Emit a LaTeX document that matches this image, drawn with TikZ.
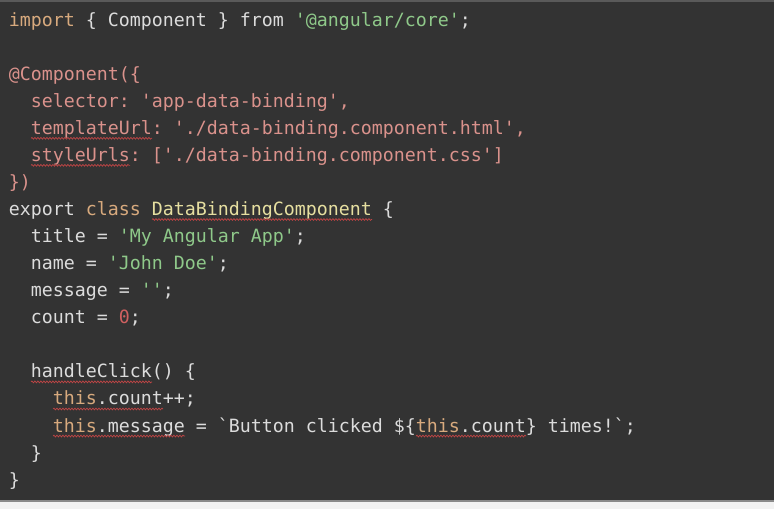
\documentclass[tikz,border=0pt]{standalone}
\usepackage{fontspec}
\setmonofont{DejaVu Sans Mono}
\usetikzlibrary{decorations.pathmorphing}
\definecolor{bgc}{HTML}{333333}
\definecolor{topc}{HTML}{5A5A5A}
\definecolor{botline}{HTML}{8A8A8A}
\definecolor{botc}{HTML}{F2F2F2}
\definecolor{fgc}{HTML}{DCDCDC}
\definecolor{kwc}{HTML}{D8AA7E}
\definecolor{strc}{HTML}{8FC98A}
\definecolor{decoc}{HTML}{DA928C}
\definecolor{clsc}{HTML}{E6DFA0}
\definecolor{numc}{HTML}{CF6060}
\definecolor{sqc}{HTML}{C04545}
\newcommand\ckw[1]{\textcolor{kwc}{#1}}
\newcommand\cstr[1]{\textcolor{strc}{#1}}
\newcommand\cdeco[1]{\textcolor{decoc}{#1}}
\newcommand\ccls[1]{\textcolor{clsc}{#1}}
\newcommand\cnum[1]{\textcolor{numc}{#1}}
\begin{document}
\begin{tikzpicture}[x=1pt,y=-1pt,
  codeln/.style={anchor=base west,inner sep=0pt,outer sep=0pt,text=fgc,
    font=\ttfamily\fontsize{18.27}{22}\selectfont},
  squig/.style={draw=sqc,line width=0.7pt,decorate,
    decoration={snake,amplitude=0.9pt,segment length=3pt}}]
\useasboundingbox (0,0) rectangle (774,509);
\fill[botc] (0,0) rectangle (774,509);
\fill[bgc] (0,0) rectangle (774,500);
\fill[topc] (0,0) rectangle (774,2);
\fill[botline] (0,499.5) rectangle (774,502);
\def\lx{9}
\def\cw{11}
\pgfmathsetmacro\lp{27.07}
% baselines
\foreach \n in {1,...,18}{\pgfmathsetmacro\b{26+\lp*(\n-1)}\expandafter\xdef\csname bl\n\endcsname{\b}}
\node[codeln] (l1) at (\lx,\csname bl1\endcsname) {\ckw{import} \{ Component \} from \cstr{'@angular/core'};};
\node[codeln] (l3) at (\lx,\csname bl3\endcsname) {\cdeco{@Component(\{}};
\node[codeln] (l4) at (\lx,\csname bl4\endcsname) {\cdeco{\ \ selector: 'app-data-binding',}};
\node[codeln] (l5) at (\lx,\csname bl5\endcsname) {\cdeco{\ \ templateUrl: './data-binding.component.html',}};
\node[codeln] (l6) at (\lx,\csname bl6\endcsname) {\cdeco{\ \ styleUrls: ['./data-binding.component.css']}};
\node[codeln] (l7) at (\lx,\csname bl7\endcsname) {\cdeco{\})}};
\node[codeln] (l8) at (\lx,\csname bl8\endcsname) {export \ckw{class} \ccls{DataBindingComponent} \{};
\node[codeln] (l9) at (\lx,\csname bl9\endcsname) {\ \ title = \cstr{'My Angular App'};};
\node[codeln] (l10) at (\lx,\csname bl10\endcsname) {\ \ name = \cstr{'John Doe'};};
\node[codeln] (l11) at (\lx,\csname bl11\endcsname) {\ \ message = \cstr{''};};
\node[codeln] (l12) at (\lx,\csname bl12\endcsname) {\ \ count = \cnum{0};};
\node[codeln] (l14) at (\lx,\csname bl14\endcsname) {\ \ handleClick() \{};
\node[codeln] (l15) at (\lx,\csname bl15\endcsname) {\ \ \ \ \ckw{this}.count++;};
\node[codeln] (l16) at (\lx,\csname bl16\endcsname) {\ \ \ \ \ckw{this}.message = \symbol{96}Button clicked \$\{\ckw{this}.count\} times!\symbol{96};};
\node[codeln] (l17) at (\lx,\csname bl17\endcsname) {\ \ \}};
\node[codeln] (l18) at (\lx,\csname bl18\endcsname) {\}};
% squiggly underlines
\newcommand\squ[3]{\draw[squig] ({\lx+\cw*#2},{\csname bl#1\endcsname+4}) -- ({\lx+\cw*(#2+#3)},{\csname bl#1\endcsname+4});}
\squ{5}{2}{11}
\squ{6}{2}{9}
\squ{8}{13}{20}
\squ{14}{2}{11}
\squ{15}{4}{10}
\squ{16}{4}{12}
\squ{16}{37}{10}
\end{tikzpicture}
\end{document}
